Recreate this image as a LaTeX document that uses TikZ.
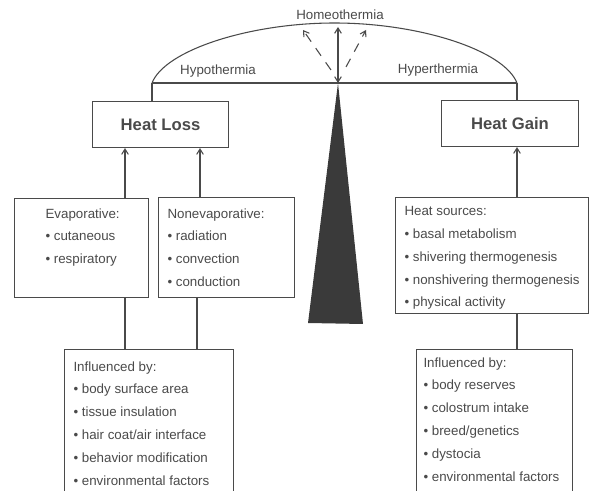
\documentclass[tikz,border=0pt]{standalone}
\usepackage{fontspec}
\setmainfont{Liberation Sans}
\usepackage{tikz}
\usetikzlibrary{arrows.meta}
\definecolor{ink}{HTML}{4A4A4A}
\definecolor{wedge}{HTML}{3A3A3A}
\newcommand{\bul}{\textbullet\ }

\begin{document}
\begin{tikzpicture}[x=0.75pt,y=-0.75pt,color=ink,line width=0.8pt,
  frame/.style={draw,rectangle,anchor=north west,inner sep=0pt},
  lst/.style={anchor=north west,align=left,inner sep=0pt,font=\fontsize{10}{17.1}\selectfont},
  lbl/.style={font=\fontsize{10}{12}\selectfont},
  tip/.style={-{Straight Barb[length=4pt,width=5pt]}}]
\useasboundingbox (0,0) rectangle (590,491);
\clip (0,0) rectangle (590,491);
% scale
\coordinate (lend) at (152,83);
\coordinate (rend) at (517,83);
\coordinate (apex) at (338,83);
\coordinate (top) at (338,27);
\draw (lend) .. controls (165,50) and (250,23) .. (334.5,23)
  .. controls (419,23) and (504,50) .. (rend);
\draw (lend) -- (rend);
\node[lbl] (homeo) at (340,15) {Homeothermia};
\node[lbl] (hypo) at (218,71) {Hypothermia};
\node[lbl] (hyper) at (438,70) {Hyperthermia};
\fill[wedge] (apex) -- (363,324) -- (308,323) -- cycle;
\draw[{Straight Barb[length=4pt,width=5pt]}-{Straight Barb[length=4pt,width=5pt]}] (apex) -- (top);
\draw[tip,dash pattern=on 7pt off 6pt] (331,70) -- (303,30);
\draw[tip,dash pattern=on 7pt off 6pt] (346,67) -- (366,30);
% main boxes
\node[frame,minimum width=102pt,minimum height=34.5pt,font=\fontsize{12.5}{14}\selectfont\bfseries] (loss) at (92,101) {Heat Loss};
\node[frame,minimum width=102.75pt,minimum height=34.5pt,font=\fontsize{12.5}{14}\selectfont\bfseries] (gain) at (441,100) {Heat Gain};
\draw (lend) -- (lend |- loss.north);
\draw (rend) -- (rend |- gain.north);
% heat loss side
\node[frame,minimum width=100.5pt,minimum height=74.25pt] (evap) at (14,198) {};
\node[frame,minimum width=102pt,minimum height=75pt] (none) at (158,197) {};
\node[frame,minimum width=126.75pt,minimum height=113.25pt] (infl) at (64,349) {};
\node[lst] (evaptxt) at (45,208) {Evaporative:\\\bul cutaneous\\\bul respiratory};
\node[lst] (nonetxt) at (167,208) {Nonevaporative:\\\bul radiation\\\bul convection\\\bul conduction};
\node[lst] (infltxt) at (73,361) {Influenced by:\\\bul body surface area\\\bul tissue insulation\\\bul hair coat/air interface\\\bul behavior modification\\\bul environmental factors};
% heat gain side
\node[frame,minimum width=144.75pt,minimum height=87pt] (src) at (395,197) {};
\node[frame,minimum width=117pt,minimum height=113.25pt] (ginfl) at (416,349) {};
\node[lst] (srctxt) at (404,206) {Heat sources:\\\bul basal metabolism\\\bul shivering thermogenesis\\\bul nonshivering thermogenesis\\\bul physical activity};
\node[lst] (ginfltxt) at (423,357) {Influenced by:\\\bul body reserves\\\bul colostrum intake\\\bul breed/genetics\\\bul dystocia\\\bul environmental factors};
% connectors
\coordinate (c1) at (125,0);
\coordinate (c2) at (200,0);
\coordinate (c3) at (197,0);
\coordinate (c4) at (517,0);
\draw[tip] (c1 |- evap.north) -- (c1 |- loss.south);
\draw[tip] (c2 |- none.north) -- (c2 |- loss.south);
\draw[tip] (c4 |- src.north) -- (c4 |- gain.south);
\draw (c1 |- infl.north) -- (c1 |- evap.south);
\draw (c3 |- infl.north) -- (c3 |- none.south);
\draw (c4 |- ginfl.north) -- (c4 |- src.south);
\end{tikzpicture}
\end{document}
